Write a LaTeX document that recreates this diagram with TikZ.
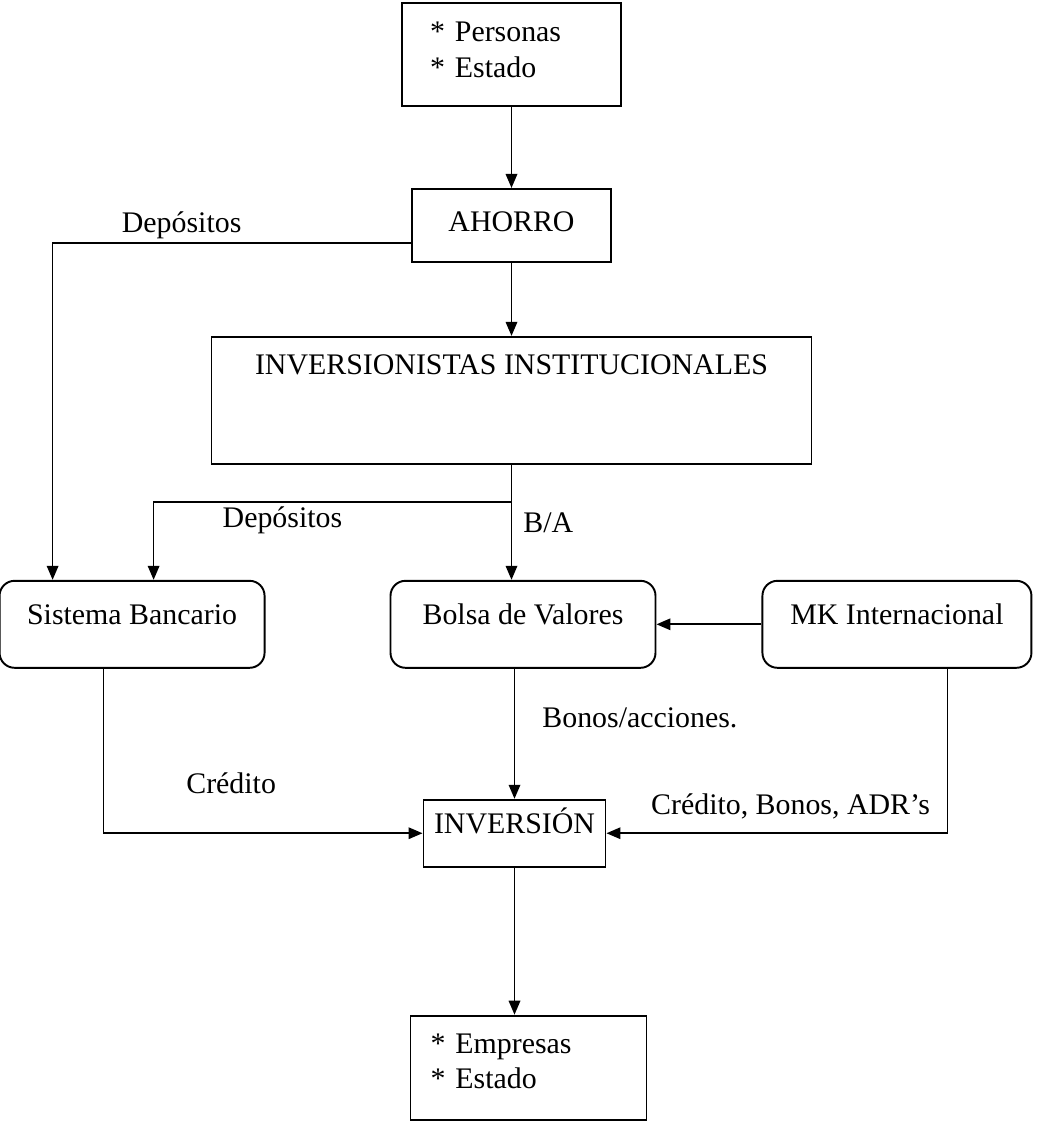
\documentclass[tikz,border=0pt]{standalone}
\usepackage{fontspec}
\setmainfont{Liberation Serif}
\usetikzlibrary{positioning,arrows.meta}

\begin{document}
\begin{tikzpicture}[
    box/.style={draw, line width=1.1pt, inner ysep=0pt, align=left},
    rbox/.style={draw, line width=1.1pt, rounded corners=0.3cm, minimum width=5.3cm, minimum height=1.74cm, inner sep=0pt, text height=0.4cm, text depth=0.4cm},
    arrow/.style={-{Triangle[length=2.8mm, width=2.3mm]}, line width=1pt},
    lbl/.style={inner sep=2pt},
    font=\fontsize{17}{20}\selectfont
]
\useasboundingbox (0,0) rectangle (20.72,-22.46);

% Ahorro
\node[box, minimum width=4.38cm, minimum height=2.06cm, text width=3.26cm, inner xsep=0.56cm, text height=0.4cm, text depth=0.9cm] (pers) at (10.23,-1.09) {* Personas\\{*} Estado};
\node[box, below=1.62cm of pers, minimum width=3.98cm, minimum height=1.46cm, text height=0.5cm, text depth=0.24cm] (ahorro) {AHORRO};
\node[box, below=1.46cm of ahorro, minimum width=12cm, minimum height=2.54cm, text height=0.4cm, text depth=1.42cm] (inst) {INVERSIONISTAS INSTITUCIONALES};

% Mercados
\node[rbox, below=2.3cm of inst, xshift=0.23cm] (bolsa) {Bolsa de Valores};
\node[rbox, left=2.48cm of bolsa] (banco) {Sistema Bancario};
\node[rbox, right=2.1cm of bolsa, minimum width=5.38cm] (mk) {MK Internacional};

% Inversion
\node[box, below=2.6cm of bolsa, xshift=-0.17cm, minimum width=3.64cm, minimum height=1.34cm, text height=0.4cm, text depth=0.4cm] (inv) {INVERSIÓN};
\node[box, below=2.94cm of inv, xshift=0.28cm, minimum width=4.72cm, minimum height=2.08cm, text width=3.92cm, inner xsep=0.4cm, text height=0.4cm, text depth=0.98cm] (emp) {* Empresas\\{*} Estado};

% Arrows
\draw[arrow] (pers) -- (ahorro);
\draw[arrow] (ahorro.south) -- (ahorro.south |- inst.north);
\draw[arrow] ([yshift=-0.35cm]ahorro.west) -| node[lbl, pos=0.32, above] {Depósitos} ([xshift=1.08cm]banco.north west);
\draw[arrow] (inst.south) -- node[lbl, right=0.15cm] {B/A} (inst.south |- bolsa.north);
\coordinate[below=0.74cm of inst.south] (split);
\draw[arrow] (split) -| node[lbl, pos=0.32, below] {Depósitos} ([xshift=3.1cm]banco.north west);
\draw[arrow] (mk) -- (bolsa);
\draw[arrow] (inv.north |- bolsa.south) -- node[lbl, pos=0.38, right=0.47cm] {Bonos/acciones.} (inv.north);
\draw[arrow] ([xshift=-0.57cm]banco.south) |- node[lbl, pos=0.7, above=0.7cm] {Crédito} (inv.west);
\draw[arrow] ([xshift=1.01cm]mk.south) |- node[lbl, pos=0.73, above=0.2cm] {Crédito, Bonos, ADR’s} (inv.east);
\draw[arrow] (inv.south) -- (inv.south |- emp.north);
\end{tikzpicture}
\end{document}
